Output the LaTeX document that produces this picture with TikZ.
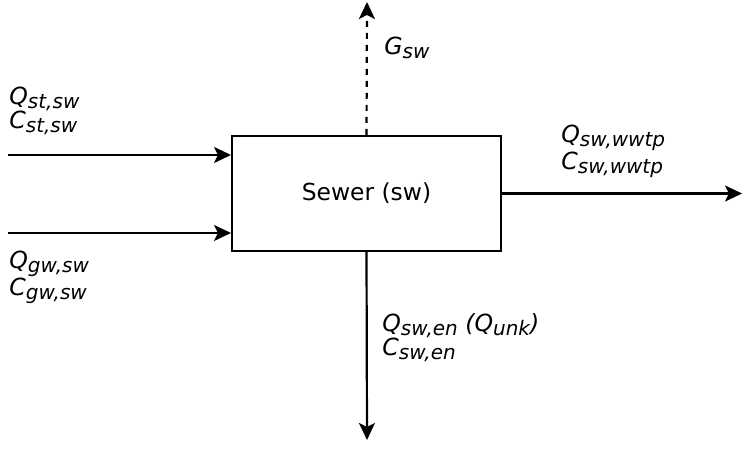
\documentclass[tikz,border=0pt]{standalone}
\usepackage{fontspec}
\setmainfont{DejaVu Sans}
\usepackage{tikz}
\usetikzlibrary{arrows.meta, positioning}
\newcommand{\subtxt}[1]{\raisebox{-0.3ex}{\fontsize{10}{10}\selectfont #1}}
\tikzstyle{block} = [rectangle, draw=black, line width=1pt, minimum width=134.5pt, minimum height=57.5pt, text centered, font=\fontsize{11.7}{13}\selectfont]
\tikzstyle{flow} = [line width=1.1pt, -{Stealth[length=8.5pt, width=8pt, inset=2pt]}]
\tikzstyle{lbl} = [anchor=base west, align=left, inner sep=0pt, font=\fontsize{11.8}{12}\selectfont\itshape]

\begin{document}
\begin{tikzpicture}[x=0.5pt, y=-0.5pt]
\useasboundingbox (0,0) rectangle (742,458);

% Process
\node[block] (sewer) at (366.5, 193.5) {Sewer (sw)};

% Free ends
\coordinate (stin) at (8, 155);
\coordinate (gwin) at (8, 233);
\coordinate (gout) at (367, 2);
\coordinate (wwout) at (742, 193.5);
\coordinate (enout) at (367, 440);

% Flows
\draw [flow] (stin) -- (stin -| sewer.west);
\draw [flow] (gwin) -- (gwin -| sewer.west);
\draw [flow, dashed] (sewer.north) -- (gout);
\draw [flow] (sewer.east) -- (wwout);
\draw [flow] (sewer.south) -- (enout);

% Labels (anchored on the last line)
\node[lbl] (stlbl) at (9, 129) {Q\subtxt{st,sw}\\C\subtxt{st,sw}};
\node[lbl] (gwlbl) at (9, 296) {Q\subtxt{gw,sw}\\C\subtxt{gw,sw}};
\node[lbl] (glbl) at (384, 55) {G\subtxt{sw}};
\node[lbl] (wwlbl) at (561, 170) {Q\subtxt{sw,wwtp}\\C\subtxt{sw,wwtp}};
\node[lbl] (enlbl) at (382, 356) {Q\subtxt{sw,en} (Q\subtxt{unk})\\C\subtxt{sw,en}};

\end{tikzpicture}
\end{document}
